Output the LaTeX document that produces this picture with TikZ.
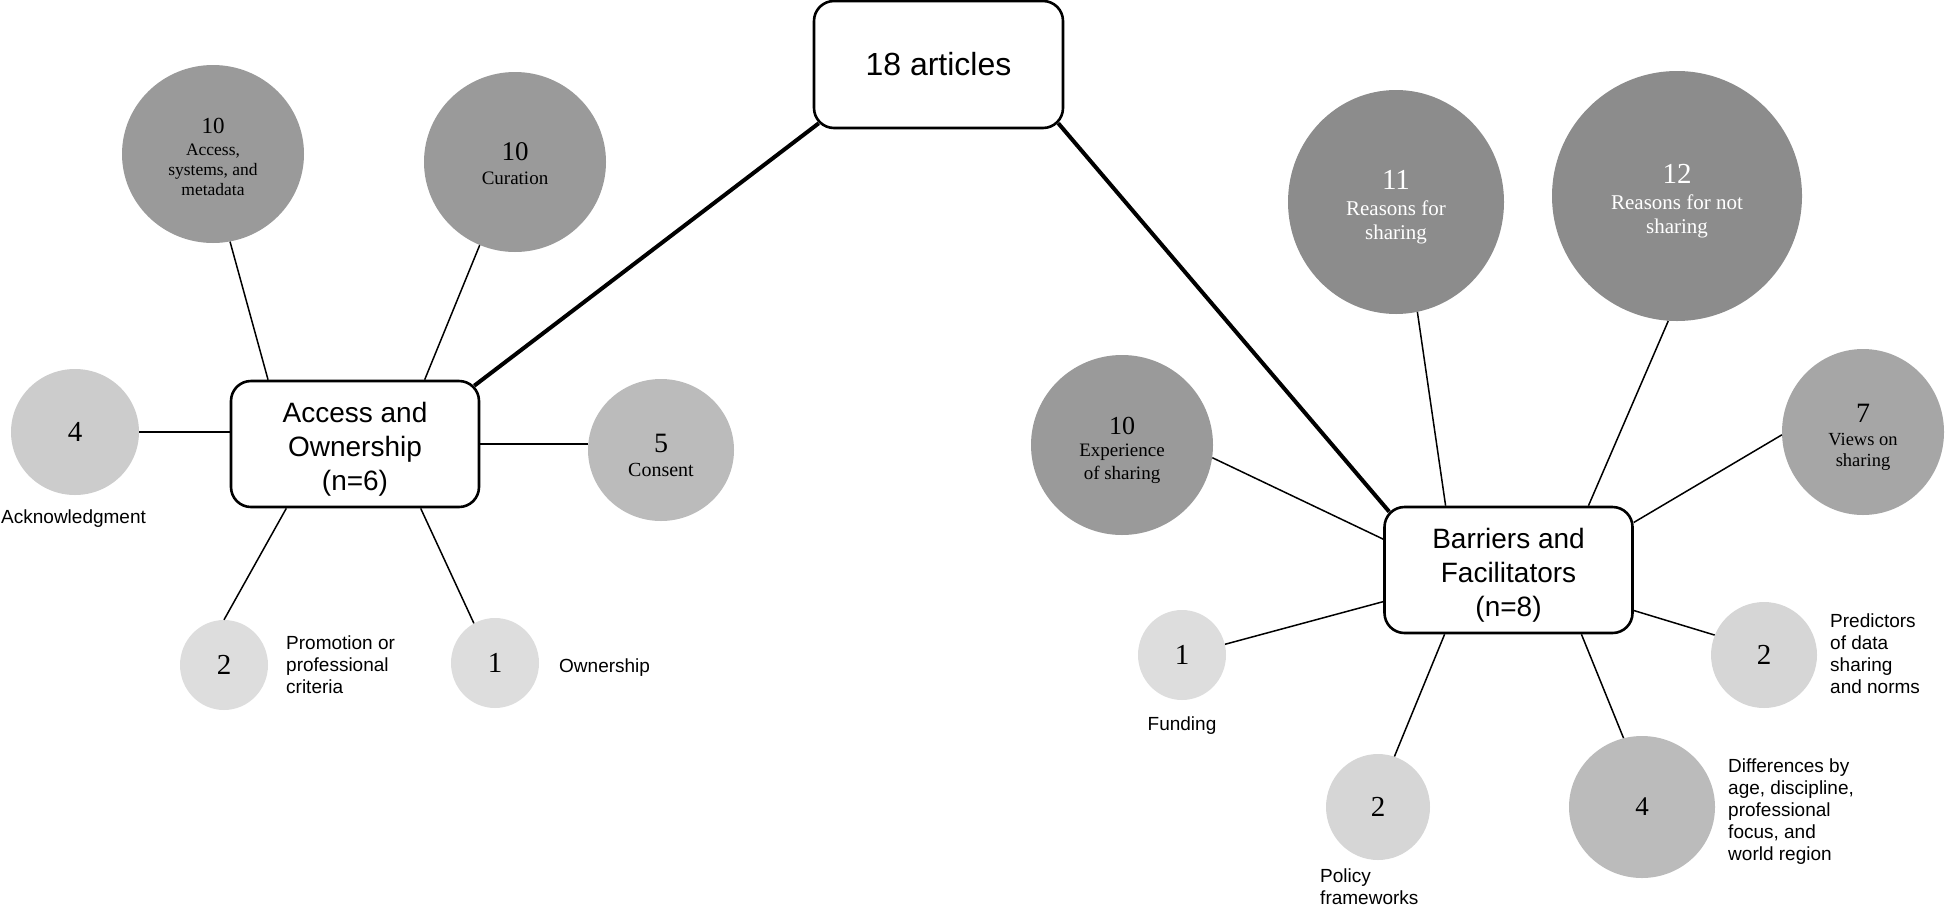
\documentclass[tikz,border=0pt]{standalone}
\usepackage{fontspec}
\setmainfont{Liberation Sans}
\newfontfamily\tnr{Liberation Serif}
\usetikzlibrary{shapes.geometric,calc}
\definecolor{gdark}{HTML}{8C8C8C}
\definecolor{gmid}{HTML}{9A9A9A}
\definecolor{gviews}{HTML}{A6A6A6}
\definecolor{gcons}{HTML}{BBBBBB}
\definecolor{gack}{HTML}{CCCCCC}
\definecolor{glight}{HTML}{DDDDDD}
\definecolor{glight2}{HTML}{D6D6D6}
% number on the first line of a bubble, with a strut that lowers the text block a little
\newcommand\bignum[3][10pt]{{\fontsize{#2}{#2}\selectfont\rule{0pt}{\dimexpr0.68em+#1\relax}#3}}
\newcommand\hubtop{\rule{0pt}{30pt}}
\tikzset{
  hub/.style={draw, line width=2.6pt, rounded corners=20pt, fill=white,
    minimum width=248pt, minimum height=126pt, align=center, inner sep=0pt,
    font=\fontsize{28}{34}\selectfont},
  bubble/.style={ellipse, draw=none, inner sep=0pt, align=center},
  link/.style={line width=1.5pt},
  trunk/.style={line width=4pt},
  lab/.style={inner sep=0pt, align=left, font=\fontsize{19}{22}\selectfont},
}
\begin{document}
\begin{tikzpicture}[x=1pt,y=-1pt]
\useasboundingbox (0,0) rectangle (1945,908);

% hubs
\node[hub, minimum width=249pt, minimum height=127pt, font=\fontsize{32}{38}\selectfont] (art) at (938.5,64.5) {18 articles};
\node[hub] (acc) at (355,444) {\hubtop Access and\\Ownership\\(n=6)};
\node[hub] (bar) at (1508.5,570) {\hubtop Barriers and\\Facilitators\\(n=8)};

% left bubbles
\node[bubble, fill=gmid, minimum width=182pt, minimum height=178pt, font=\tnr\fontsize{17.5}{20}\selectfont] (meta) at (213,154) {\bignum[5pt]{23}{10}\\[2pt]Access,\\systems, and\\metadata};
\node[bubble, fill=gmid, minimum width=182pt, minimum height=180pt, font=\tnr\fontsize{19}{22}\selectfont] (cur) at (515,162) {\bignum[2.5pt]{27}{10}\\[1.5pt]Curation};
\node[bubble, fill=gack, minimum width=128pt, minimum height=126pt, font=\tnr\fontsize{29}{29}\selectfont] (c4) at (75,432) {4};
\node[bubble, fill=gcons, minimum width=146pt, minimum height=142pt, font=\tnr\fontsize{20}{22}\selectfont] (con) at (661,450) {\bignum{28}{5}\\[2pt]Consent};
\node[bubble, fill=glight, minimum width=88pt, minimum height=90pt, font=\tnr\fontsize{29}{29}\selectfont] (pro) at (224,665) {2};
\node[bubble, fill=glight, minimum width=88pt, minimum height=90pt, font=\tnr\fontsize{29}{29}\selectfont] (own) at (495,663) {1};

% right bubbles
\node[bubble, fill=gdark, text=white, minimum width=216pt, minimum height=224pt, font=\tnr\fontsize{21}{23.5}\selectfont] (r11) at (1396,202) {\bignum{29}{11}\\[2.5pt]Reasons for\\sharing};
\node[bubble, fill=gdark, text=white, minimum width=250pt, minimum height=250pt, font=\tnr\fontsize{21}{24}\selectfont] (r12) at (1677,196) {\bignum{29}{12}\\[2pt]Reasons for not\\sharing};
\node[bubble, fill=gmid, minimum width=182pt, minimum height=180pt, font=\tnr\fontsize{19}{22.5}\selectfont] (exp) at (1122,445) {\bignum{26}{10}\\Experience\\of sharing};
\node[bubble, fill=gviews, minimum width=162pt, minimum height=166pt, font=\tnr\fontsize{18.5}{21.5}\selectfont] (vws) at (1863,432) {\bignum{28}{7}\\[1.5pt]Views on\\sharing};
\node[bubble, fill=glight, minimum width=88pt, minimum height=90pt, font=\tnr\fontsize{29}{29}\selectfont] (fun) at (1182,655) {1};
\node[bubble, fill=glight2, minimum width=104pt, minimum height=106pt, font=\tnr\fontsize{29}{29}\selectfont] (pol) at (1378,807) {2};
\node[bubble, fill=gcons, minimum width=146pt, minimum height=142pt, font=\tnr\fontsize{27}{27}\selectfont] (dif) at (1642,807) {4};
\node[bubble, fill=glight2, minimum width=106pt, minimum height=106pt, font=\tnr\fontsize{29}{29}\selectfont] (pre) at (1764,655) {2};

% outside labels
\node[lab, anchor=base west] (ackl) at (1,523) {Acknowledgment};
\node[lab, anchor=north west] (prol) at (286,636) {Promotion or\\professional\\criteria};
\node[lab, anchor=base west] (ownl) at (559,672) {Ownership};
\node[lab, anchor=base] (funl) at (1182,730) {Funding};
\node[lab, anchor=north west] (poll) at (1320,869) {Policy\\frameworks};
\node[lab, anchor=north west] (difl) at (1728,759) {Differences by\\age, discipline,\\professional\\focus, and\\world region};
\node[lab, anchor=north west] (prel) at (1830,614) {Predictors\\of data\\sharing\\and norms};

% trunk connectors
\draw[trunk] ($(acc.north east)+(-6,6)$) -- ($(art.south west)+(6,-6)$);
\draw[trunk] ($(art.south east)+(-6,-6)$) -- ($(bar.north west)+(6,6)$);

% left connectors
\draw[link] (meta.281) -- ($(acc.north west)!0.153!(acc.north east)$);
\draw[link] (cur.247) -- ($(acc.north west)!0.778!(acc.north east)$);
\draw[link] (c4.east) -- (c4.east -| acc.west);
\draw[link] (acc.east) -- (acc.east -| con.west);
\draw[link] (pro.north) -- ($(acc.south west)!0.226!(acc.south east)$);
\draw[link] (own.118) -- ($(acc.south west)!0.762!(acc.south east)$);

% right connectors
\draw[link] (exp.352) -- ($(bar.north west)!0.26!(bar.south west)$);
\draw[link] (r11.281) -- ($(bar.north west)!0.249!(bar.north east)$);
\draw[link] (r12.266) -- ($(bar.north west)!0.819!(bar.north east)$);
\draw[link] (vws.182) -- ($(bar.north east)!0.13!(bar.south east)$);
\draw[link] (fun.14) -- ($(bar.north west)!0.746!(bar.south west)$);
\draw[link] (pol.72) -- ($(bar.south west)!0.245!(bar.south east)$);
\draw[link] (dif.105) -- ($(bar.south west)!0.791!(bar.south east)$);
\draw[link] (pre.158) -- ($(bar.north east)!0.815!(bar.south east)$);
\end{tikzpicture}
\end{document}
